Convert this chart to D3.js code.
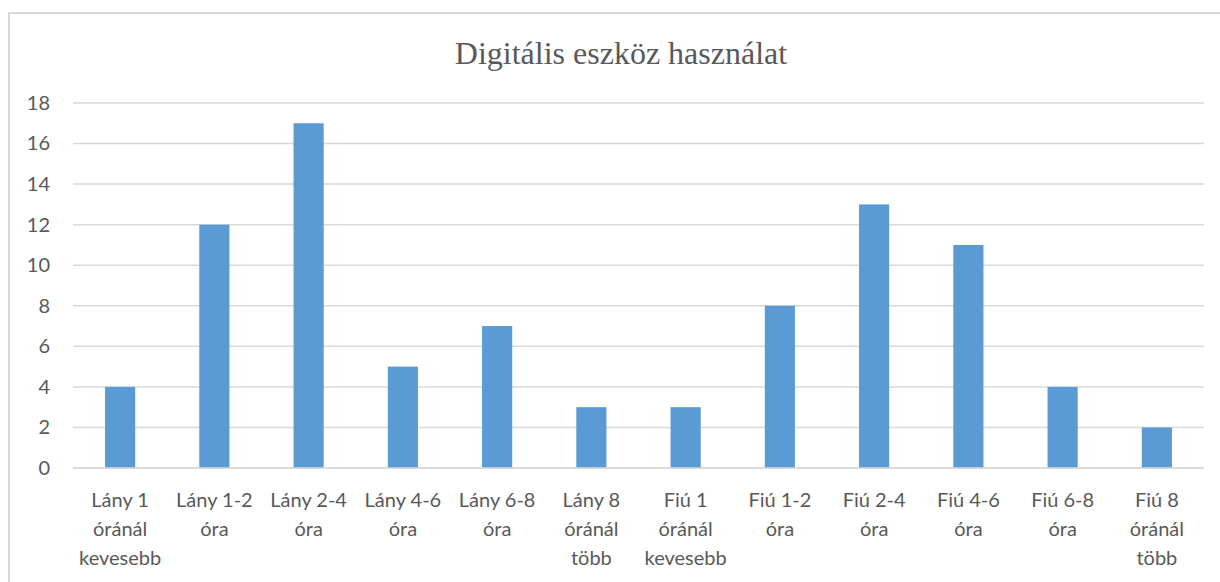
<!DOCTYPE html>
<html>
<head>
<meta charset="utf-8">
<script src="https://cdn.jsdelivr.net/npm/d3@7"></script>
<style>
  body { margin: 0; background: #fff; }
</style>
</head>
<body>
<div id="chart"></div>
<script>
// data
var categories = [
  ["Lány 1", "óránál", "kevesebb"],
  ["Lány 1-2", "óra"],
  ["Lány 2-4", "óra"],
  ["Lány 4-6", "óra"],
  ["Lány 6-8", "óra"],
  ["Lány 8", "óránál", "több"],
  ["Fiú 1", "óránál", "kevesebb"],
  ["Fiú 1-2", "óra"],
  ["Fiú 2-4", "óra"],
  ["Fiú 4-6", "óra"],
  ["Fiú 6-8", "óra"],
  ["Fiú 8", "óránál", "több"]
];
var values = [4, 12, 17, 5, 7, 3, 3, 8, 13, 11, 4, 2];
var yTicks = [0, 2, 4, 6, 8, 10, 12, 14, 16, 18];
var title = "Digitális eszköz használat";

var width = 1220, height = 582;
var plotLeft = 73, plotRight = 1204, plotTop = 103, plotBottom = 468;

var svg = d3.select("#chart").append("svg")
    .attr("width", width)
    .attr("height", height);

// outer frame (only top and left are visible in the crop)
svg.append("rect")
    .attr("x", 9).attr("y", 13)
    .attr("width", 1230).attr("height", 600)
    .attr("fill", "none")
    .attr("stroke", "#d9d9d9")
    .attr("stroke-width", 2);

svg.append("text")
    .attr("x", 621).attr("y", 64)
    .attr("text-anchor", "middle")
    .attr("font-family", "Liberation Serif, Times New Roman, serif")
    .attr("font-size", 32)
    .attr("fill", "#595959")
    .text(title);

var x = d3.scaleBand()
    .domain(d3.range(categories.length))
    .range([plotLeft, plotRight])
    .padding(0);

var y = d3.scaleLinear()
    .domain([0, 18])
    .range([plotBottom, plotTop]);

// gridlines
svg.selectAll("line.grid")
    .data(yTicks)
    .enter()
    .append("line")
    .attr("class", "grid")
    .attr("x1", plotLeft)
    .attr("x2", plotRight)
    .attr("y1", function(d){ return y(d); })
    .attr("y2", function(d){ return y(d); })
    .attr("stroke", "#d9d9d9")
    .attr("stroke-width", 1.5);

// y axis labels
var yAxis = d3.axisLeft(y).tickValues(yTicks).tickSize(0).tickPadding(0);
var yg = svg.append("g")
    .attr("transform", "translate(50,0)")
    .call(yAxis);
yg.select(".domain").remove();
yg.selectAll("text")
    .attr("font-family", "Lato, Carlito, Calibri, sans-serif")
    .attr("font-size", 20)
    .attr("fill", "#595959");

// bars
var barW = x.bandwidth() * 0.32;
svg.selectAll("rect.bar")
    .data(values)
    .enter()
    .append("rect")
    .attr("class", "bar")
    .attr("x", function(d, i){ return x(i) + x.bandwidth() / 2 - barW / 2; })
    .attr("y", function(d){ return y(d); })
    .attr("width", barW)
    .attr("height", function(d){ return y(0) - y(d); })
    .attr("fill", "#5b9bd5");

// re-draw zero line on top
svg.append("line")
    .attr("x1", plotLeft).attr("x2", plotRight)
    .attr("y1", y(0)).attr("y2", y(0))
    .attr("stroke", "#d9d9d9")
    .attr("stroke-width", 1.5);

// category labels, wrapped
var labels = svg.selectAll("text.cat")
    .data(categories)
    .enter()
    .append("text")
    .attr("class", "cat")
    .attr("text-anchor", "middle")
    .attr("font-family", "Lato, Carlito, Calibri, sans-serif")
    .attr("font-size", 20)
    .attr("fill", "#595959");

labels.selectAll("tspan")
    .data(function(d, i){ return d.map(function(t){ return {t: t, i: i}; }); })
    .enter()
    .append("tspan")
    .attr("x", function(d){ return x(d.i) + x.bandwidth() / 2; })
    .attr("y", function(d, j){ return 507 + j * 29; })
    .text(function(d){ return d.t; });
</script>
</body>
</html>
